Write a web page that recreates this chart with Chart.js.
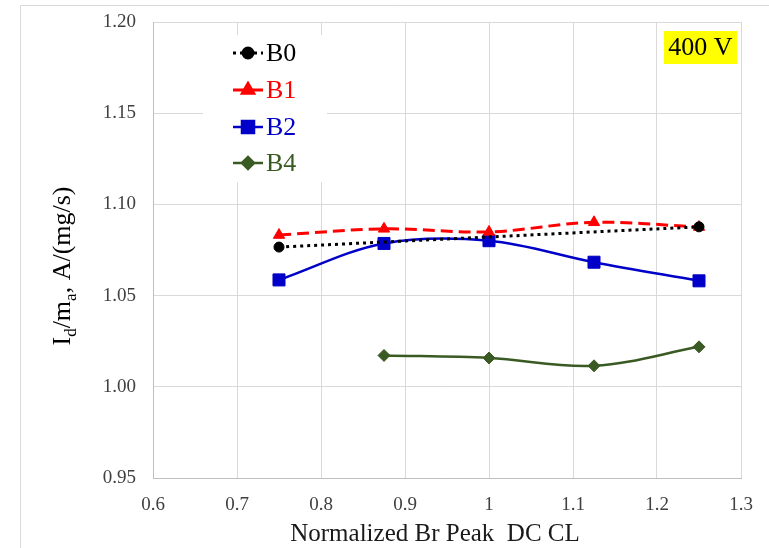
<!DOCTYPE html>
<html>
<head>
<meta charset="utf-8">
<script src="https://cdn.jsdelivr.net/npm/chart.js@4"></script>
<style>
  body { margin: 0; background: #fff; }
  #wrap { width: 769px; height: 548px; }
</style>
</head>
<body>
<div id="wrap"><canvas id="myChart" width="769" height="548"></canvas></div>
<script>
const ctx = document.getElementById('myChart').getContext('2d');

// data
const b0X = [0.75, 1.25];
const b0Y = [1.0766, 1.0877];
const b1X = [0.75, 0.875, 1.0, 1.125, 1.25];
const b1Y = [1.0832, 1.0866, 1.0849, 1.0902, 1.0876];
const b2X = [0.75, 0.875, 1.0, 1.125, 1.25];
const b2Y = [1.0586, 1.0786, 1.0801, 1.0683, 1.0581];
const b4X = [0.875, 1.0, 1.125, 1.25];
const b4Y = [1.0172, 1.0158, 1.0115, 1.0219];
const xTicks = [0.6, 0.7, 0.8, 0.9, 1.0, 1.1, 1.2, 1.3];
const yTicks = [0.95, 1.00, 1.05, 1.10, 1.15, 1.20];

const serif = '"Liberation Serif", "Times New Roman", serif';
const green = '#3a5a24';
const blue = '#0000c8';

const pts = (xs, ys) => xs.map((x, i) => ({ x: x, y: ys[i] }));

const series = [
  { label: 'B0', xs: b0X, ys: b0Y, color: '#000000', dash: [3, 4], style: 'circle', r: 5, w: 3 },
  { label: 'B1', xs: b1X, ys: b1Y, color: '#ff0000', dash: [12, 6], style: 'triangle', r: 6.5, w: 3 },
  { label: 'B2', xs: b2X, ys: b2Y, color: blue, dash: [], style: 'rect', r: 8.5, w: 2.5 },
  { label: 'B4', xs: b4X, ys: b4Y, color: green, dash: [], style: 'rectRot', r: 6, w: 2.5 }
];

// frame, legend, yellow label and the axis titles (y one has subscripts)
const extras = {
  id: 'extras',
  beforeDraw(chart) {
    const c = chart.ctx;
    c.save();
    c.strokeStyle = '#d9d9d9';
    c.lineWidth = 1;
    c.beginPath();
    c.moveTo(20.5, 548);
    c.lineTo(20.5, 5.5);
    c.lineTo(769, 5.5);
    c.stroke();
    c.restore();
  },
  afterDatasetsDraw(chart) {
    const c = chart.ctx;
    c.save();
    // legend box
    c.fillStyle = '#ffffff';
    c.fillRect(203, 35, 124, 147);
    const rows = [53, 90, 127, 163];
    series.forEach((s, i) => {
      const y = rows[i];
      c.strokeStyle = s.color;
      c.lineWidth = s.w;
      c.setLineDash(s.dash);
      c.beginPath();
      c.moveTo(233, y);
      c.lineTo(263, y);
      c.stroke();
      c.setLineDash([]);
      c.fillStyle = s.color;
      Chart.helpers.drawPoint(c, { pointStyle: s.style, radius: s.r, rotation: 0, borderWidth: 1 }, 248, y);
      c.fill();
      c.font = '26px ' + serif;
      c.textBaseline = 'middle';
      c.textAlign = 'left';
      c.fillText(s.label, 266, y + 1);
    });

    // 400 V label
    c.fillStyle = '#ffff00';
    c.fillRect(664, 31, 73, 33);
    c.fillStyle = '#000000';
    c.font = '26px ' + serif;
    c.textAlign = 'center';
    c.textBaseline = 'middle';
    c.fillText('400 V', 700.5, 48);

    // x axis title
    c.font = '25px ' + serif;
    c.fillStyle = '#1a1a1a';
    c.textBaseline = 'alphabetic';
    c.fillText('Normalized Br Peak  DC CL', 435, 541);

    // y axis title
    c.translate(70, 266);
    c.rotate(-Math.PI / 2);
    const big = '26px ' + serif;
    const small = '17px ' + serif;
    const parts = [['I', big, 0], ['d', small, 6], ['/m', big, 0], ['a', small, 6], [', A/(mg/s)', big, 0]];
    let total = 0;
    parts.forEach(p => { c.font = p[1]; total += c.measureText(p[0]).width; });
    let x = -total / 2;
    c.textAlign = 'left';
    c.fillStyle = '#000000';
    parts.forEach(p => {
      c.font = p[1];
      c.fillText(p[0], x, p[2]);
      x += c.measureText(p[0]).width;
    });
    c.restore();
  }
};

const config = {
  type: 'line',
  data: {
    datasets: series.map(s => ({
      label: s.label,
      data: pts(s.xs, s.ys),
      borderColor: s.color,
      backgroundColor: s.color,
      borderWidth: s.w,
      borderDash: s.dash,
      pointStyle: s.style,
      pointRadius: s.r,
      pointBorderWidth: 1,
      tension: 0.35,
      fill: false
    }))
  },
  options: {
    responsive: false,
    animation: false,
    layout: { padding: { left: 0, right: 28, top: 22, bottom: 0 } },
    plugins: {
      legend: { display: false },
      tooltip: { enabled: false }
    },
    scales: {
      x: {
        type: 'linear',
        min: 0.6,
        max: 1.3,
        afterBuildTicks: axis => { axis.ticks = xTicks.map(v => ({ value: v })); },
        afterFit: axis => { axis.height = 70; },
        ticks: {
          padding: 16,
          color: '#404040',
          font: { family: serif, size: 19 },
          callback: v => String(Number(v.toFixed(1)))
        },
        grid: { color: '#d9d9d9', drawTicks: false },
        border: { color: '#bfbfbf' }
      },
      y: {
        min: 0.95,
        max: 1.2,
        afterBuildTicks: axis => { axis.ticks = yTicks.map(v => ({ value: v })); },
        afterFit: axis => {
          axis.width = 153;
          axis.paddingTop = 0;
          axis.paddingBottom = 0;
        },
        ticks: {
          padding: 17,
          color: '#404040',
          font: { family: serif, size: 19 },
          callback: v => v.toFixed(2)
        },
        grid: { color: '#d9d9d9', drawTicks: false },
        border: { color: '#bfbfbf' }
      }
    }
  },
  plugins: [extras]
};

new Chart(ctx, config);
</script>
</body>
</html>
